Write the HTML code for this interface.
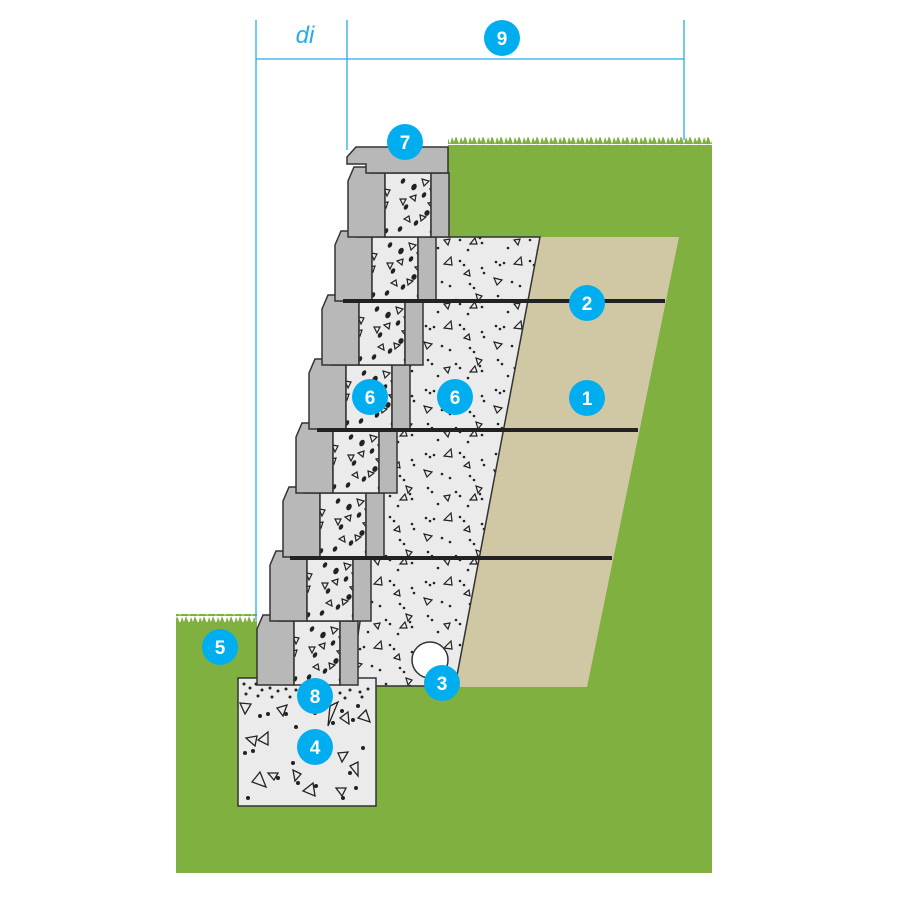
<!DOCTYPE html>
<html><head><meta charset="utf-8"><style>
html,body{margin:0;padding:0;background:#fff;}
svg{display:block;font-family:"Liberation Sans",sans-serif;}
</style></head><body>
<svg width="900" height="900" viewBox="0 0 900 900" xmlns="http://www.w3.org/2000/svg">
<defs>
<pattern id="core" width="46" height="64" patternUnits="userSpaceOnUse">
<rect width="46" height="64" fill="#ebebeb"/>
<g fill="#222">
<ellipse cx="9" cy="8" rx="2" ry="3" transform="rotate(30 9 8)"/>
<ellipse cx="20" cy="14" rx="2.5" ry="3.5" transform="rotate(30 20 14)"/>
<ellipse cx="30" cy="22" rx="2" ry="3" transform="rotate(30 30 22)"/>
<ellipse cx="12" cy="34" rx="2" ry="3" transform="rotate(30 12 34)"/>
<ellipse cx="33" cy="40" rx="2.5" ry="3" transform="rotate(30 33 40)"/>
<ellipse cx="22" cy="50" rx="2" ry="3" transform="rotate(30 22 50)"/>
<ellipse cx="6" cy="56" rx="2" ry="3" transform="rotate(30 6 56)"/>
<ellipse cx="38" cy="58" rx="2" ry="3" transform="rotate(30 38 58)"/>
</g>
<g fill="none" stroke="#222" stroke-width="1.2">
<path d="M28,6 l7,2 l-5,5z"/><path d="M36,16 l6,1 l-3,6z"/><path d="M6,26 l6,0 l-3,6z"/>
<path d="M16,24 l6,-2 l-1,6z"/><path d="M34,30 l6,-1 l-2,6z"/><path d="M26,42 l6,2 l-5,4z"/><path d="M10,46 l5,-3 l1,6z"/>
</g>
</pattern>
<pattern id="agg" width="70" height="64" patternUnits="userSpaceOnUse">
<rect width="70" height="64" fill="#ebebeb"/>
<g fill="#222">
<circle cx="6" cy="6" r="1.3"/><circle cx="10" cy="9" r="1.3"/><circle cx="14" cy="7" r="1.3"/>
<circle cx="40" cy="5" r="1.3"/><circle cx="44" cy="9" r="1.3"/><circle cx="62" cy="12" r="1.3"/><circle cx="64" cy="17" r="1.3"/>
<circle cx="22" cy="26" r="1.3"/><circle cx="30" cy="30" r="1.3"/><circle cx="50" cy="28" r="1.3"/><circle cx="54" cy="32" r="1.3"/>
<circle cx="8" cy="40" r="1.3"/><circle cx="12" cy="44" r="1.3"/><circle cx="36" cy="44" r="1.3"/><circle cx="40" cy="48" r="1.3"/>
<circle cx="60" cy="46" r="1.3"/><circle cx="62" cy="51" r="1.3"/><circle cx="18" cy="56" r="1.3"/><circle cx="48" cy="58" r="1.3"/>
</g>
<g fill="none" stroke="#222" stroke-width="1.2">
<path d="M24,8 l7,-7 l1,8z"/><path d="M4,22 l8,2 l-5,5z"/><path d="M44,18 l5,-4 l1,6z"/>
<path d="M56,38 l6,2 l-4,5z"/><path d="M24,48 l6,-1 l-2,6z"/><path d="M50,52 l5,-6 l2,6z"/>
</g>
</pattern>
<pattern id="foot" width="138" height="128" patternUnits="userSpaceOnUse" x="238" y="678">
<rect width="138" height="128" fill="#ebebeb"/>
<g fill="#222">
<circle cx="22" cy="38" r="2"/><circle cx="30" cy="36" r="2"/><circle cx="48" cy="36" r="2"/>
<circle cx="7" cy="75" r="2"/><circle cx="15" cy="73" r="2"/><circle cx="58" cy="49" r="2"/>
<circle cx="77" cy="35" r="2"/><circle cx="95" cy="45" r="2"/><circle cx="104" cy="33" r="2"/>
<circle cx="115" cy="42" r="2"/><circle cx="120" cy="28" r="2"/><circle cx="63" cy="65" r="2"/>
<circle cx="40" cy="100" r="2"/><circle cx="60" cy="105" r="2"/><circle cx="78" cy="108" r="2"/>
<circle cx="112" cy="95" r="2"/><circle cx="118" cy="110" r="2"/><circle cx="105" cy="120" r="2"/>
<circle cx="10" cy="120" r="2"/><circle cx="55" cy="85" r="2"/><circle cx="125" cy="70" r="2"/>
</g>
<g fill="none" stroke="#222" stroke-width="1.3">
<path d="M2,25 l11,1 l-6,10z"/><path d="M39,30 l10,-3 l-4,11z"/><path d="M20,62 l10,-8 l0,13z"/>
<path d="M8,60 l11,-2 l-2,10z"/><path d="M92,28 l8,-4 l-10,24z"/><path d="M102,40 l8,-6 l1,12z"/>
<path d="M128,32 l-8,8 l12,4z"/><path d="M14,104 l8,-10 l6,15z"/><path d="M30,95 l10,0 l-4,7z"/>
<path d="M55,92 l8,4 l-6,7z"/><path d="M100,75 l10,-1 l-6,10z"/><path d="M120,84 l-8,4 l8,10z"/>
<path d="M75,105 l-10,8 l12,5z"/><path d="M98,110 l10,0 l-4,8z"/><path d="M80,60 l-5,12 l10,-3z"/>
</g>
</pattern>
<pattern id="grass" width="9" height="8" patternUnits="userSpaceOnUse">
<path d="M0,8 L2,1 L4,6 L6,0 L8,5 L9,8z" fill="#80b03f"/>
</pattern>
<g id="blk">
<polygon points="0,8 6,-6 22,-6 22,0 37,0 37,64 0,64" fill="#b8b8b8" stroke="#333" stroke-width="1.5"/>
<rect x="37" y="0" width="46" height="64" fill="url(#core)" stroke="#333" stroke-width="1.5"/>
<rect x="83" y="0" width="18" height="64" fill="#b8b8b8" stroke="#333" stroke-width="1.5"/>
</g>
</defs>

<!-- green ground -->
<polygon points="448,145 712,145 712,873 176,873 176,622 257,622 257,686 455,686 540,237 448,237" fill="#80b03f"/>
<rect x="448" y="137" width="264" height="8" fill="url(#grass)"/>
<rect x="176" y="614" width="81" height="8" fill="url(#grass)"/>

<!-- reinforced soil -->
<polygon points="540,237 679,237 587,687 455,687" fill="#d0c8a4"/>
<!-- drainage aggregate -->
<polygon points="420,237 540,237 455,686 350,686" fill="url(#agg)" stroke="#333" stroke-width="1.5"/>

<!-- footing -->
<rect x="238" y="678" width="138" height="128" fill="url(#foot)" stroke="#333" stroke-width="1.5"/>

<!-- blocks bottom to top -->
<use href="#blk" x="257" y="621"/>
<use href="#blk" x="270" y="557"/>
<use href="#blk" x="283" y="493"/>
<use href="#blk" x="296" y="429"/>
<use href="#blk" x="309" y="365"/>
<use href="#blk" x="322" y="301"/>
<use href="#blk" x="335" y="237"/>
<use href="#blk" x="348" y="173"/>
<!-- gravel band under blocks -->
<g fill="#222">
<circle cx="244" cy="684" r="1.5"/><circle cx="250" cy="688" r="1.5"/><circle cx="256" cy="684" r="1.5"/>
<circle cx="262" cy="690" r="1.5"/><circle cx="270" cy="688" r="1.5"/><circle cx="278" cy="691" r="1.5"/>
<circle cx="286" cy="689" r="1.5"/><circle cx="296" cy="690" r="1.5"/><circle cx="305" cy="692" r="1.5"/>
<circle cx="330" cy="690" r="1.5"/><circle cx="340" cy="693" r="1.5"/><circle cx="350" cy="690" r="1.5"/>
<circle cx="360" cy="692" r="1.5"/><circle cx="368" cy="689" r="1.5"/><circle cx="246" cy="694" r="1.5"/>
<circle cx="258" cy="696" r="1.5"/><circle cx="272" cy="697" r="1.5"/><circle cx="290" cy="697" r="1.5"/>
<circle cx="345" cy="698" r="1.5"/><circle cx="362" cy="697" r="1.5"/>
</g>
<!-- cap -->
<polygon points="347,157 356,147 448,147 448,173 366,173 366,164 347,164" fill="#b8b8b8" stroke="#333" stroke-width="1.5"/>

<!-- geogrids -->
<rect x="343" y="299" width="322" height="4" fill="#222"/>
<rect x="317" y="428" width="321" height="4" fill="#222"/>
<rect x="290" y="556" width="322" height="4" fill="#222"/>

<!-- drain pipe -->
<circle cx="430" cy="660" r="18" fill="#fff" stroke="#333" stroke-width="1.5"/>

<!-- dimension lines -->
<g stroke="#2aaae8" stroke-width="1.3">
<line x1="256" y1="20" x2="256" y2="620"/>
<line x1="347" y1="20" x2="347" y2="150"/>
<line x1="684" y1="20" x2="684" y2="140"/>
<line x1="256" y1="59" x2="684" y2="59"/>
</g>
<text x="305" y="43" font-size="24" font-style="italic" fill="#2aaae8" text-anchor="middle">di</text>

<!-- labels -->
<g font-size="19" font-weight="bold" fill="#fff" text-anchor="middle">
<circle cx="502" cy="38" r="18" fill="#00aef0"/><text x="502" y="45">9</text>
<circle cx="405" cy="142" r="18" fill="#00aef0"/><text x="405" y="149">7</text>
<circle cx="587" cy="303" r="18" fill="#00aef0"/><text x="587" y="310">2</text>
<circle cx="587" cy="398" r="18" fill="#00aef0"/><text x="587" y="405">1</text>
<circle cx="370" cy="397" r="18" fill="#00aef0"/><text x="370" y="404">6</text>
<circle cx="455" cy="397" r="18" fill="#00aef0"/><text x="455" y="404">6</text>
<circle cx="220" cy="647" r="18" fill="#00aef0"/><text x="220" y="654">5</text>
<circle cx="442" cy="683" r="18" fill="#00aef0"/><text x="442" y="690">3</text>
<circle cx="315" cy="696" r="18" fill="#00aef0"/><text x="315" y="703">8</text>
<circle cx="315" cy="747" r="18" fill="#00aef0"/><text x="315" y="754">4</text>
</g>
</svg>
</body></html>
